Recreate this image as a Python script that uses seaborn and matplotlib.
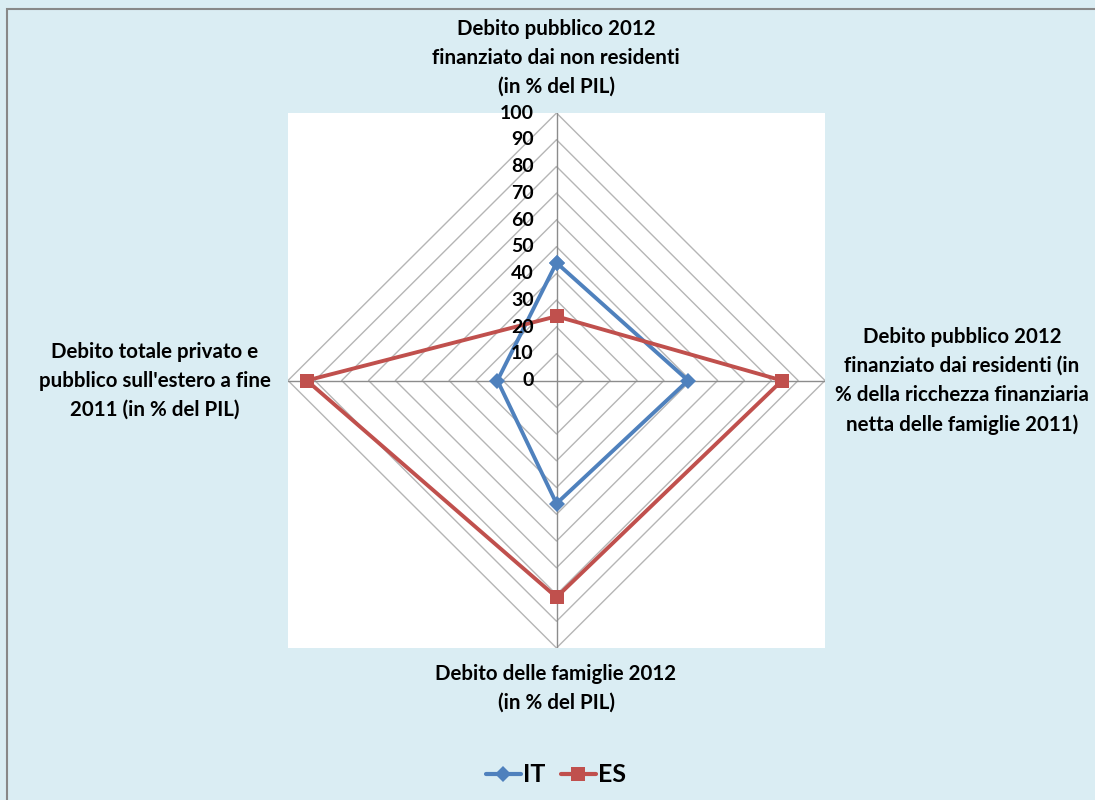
import numpy as np
import pandas as pd
import matplotlib.pyplot as plt
import seaborn as sns
from matplotlib.lines import Line2D
from matplotlib.patches import Rectangle

sns.set_style("white")
plt.rcParams['font.family'] = ['Lato', 'DejaVu Sans']
plt.rcParams['font.weight'] = 'bold'
plt.rcParams['text.color'] = 'black'

# --- Data ---
categories = [
    "Debito pubblico 2012\nfinanziato dai non residenti\n(in % del PIL)",
    "Debito pubblico 2012\nfinanziato dai residenti (in\n% della ricchezza finanziaria\nnetta delle famiglie 2011)",
    "Debito delle famiglie 2012\n(in % del PIL)",
    "Debito totale privato e\npubblico sull'estero a fine\n2011 (in % del PIL)",
]
it_values = [44, 49, 46, 22]
es_values = [24, 84, 81, 93]
ticks = list(range(0, 101, 10))

# top, right, bottom, left (clockwise from top)
angles = np.deg2rad([90, 0, -90, 180])

BG = '#DAEDF3'
IT_COLOR = '#4F81BD'
ES_COLOR = '#C0504D'

fig = plt.figure(figsize=(10.95, 8), dpi=100)
fig.patch.set_facecolor(BG)
fig.patches.append(Rectangle((7 / 1095, -0.1), 1.2, 1.1 - 9 / 800, transform=fig.transFigure,
                             fill=False, edgecolor='#888888', linewidth=1.5, zorder=0))

ax = fig.add_axes([288 / 1095, 152 / 800, 537 / 1095, 535 / 800])
ax.set_facecolor('white')
for s in ax.spines.values():
    s.set_visible(False)

# grid diamonds
for r in ticks[1:]:
    gx = np.append(r * np.cos(angles), r * np.cos(angles[0]))
    gy = np.append(r * np.sin(angles), r * np.sin(angles[0]))
    ax.plot(gx, gy, color='#B5B5B5', lw=1, zorder=1)
# spokes
for a in angles:
    ax.plot([0, 100 * np.cos(a)], [0, 100 * np.sin(a)], color='#8C8C8C', lw=1, zorder=1)

# series
for name, vals, color, marker, ms in [('IT', it_values, IT_COLOR, 'D', 8),
                                     ('ES', es_values, ES_COLOR, 's', 10)]:
    v = np.array(vals + vals[:1], dtype=float)
    a = np.append(angles, angles[0])
    df = pd.DataFrame({'x': v * np.cos(a), 'y': v * np.sin(a)})
    sns.lineplot(data=df, x='x', y='y', sort=False, estimator=None, ax=ax, color=color,
                 lw=2.8, marker=marker, markersize=ms, markeredgewidth=0, zorder=3, legend=False)
ax.set_xlabel('')
ax.set_ylabel('')
ax.set_xticks([])
ax.set_yticks([])
ax.set_xlim(-100, 100)
ax.set_ylim(-100, 100)

# radial tick labels
for t in ticks:
    ax.text(-8.5, t, str(t), ha='right', va='center', fontsize=14, fontweight='bold',
            color='black', zorder=4, clip_on=False)

# category labels (figure pixel coords)
label_pos = [(556, 58), (962, 381), (556, 688), (155, 381)]
for lab, (px, py) in zip(categories, label_pos):
    fig.text(px / 1095, 1 - py / 800, lab, ha='center', va='center', fontsize=14.8,
             fontweight='bold', linespacing=1.55, color='black')

# legend
handles = [Line2D([], [], color=IT_COLOR, lw=3, marker='D', markersize=8, markeredgewidth=0),
           Line2D([], [], color=ES_COLOR, lw=3, marker='s', markersize=10, markeredgewidth=0)]
fig.legend(handles, ['IT', 'ES'], loc='center', bbox_to_anchor=(556 / 1095, 1 - 775 / 800),
           ncol=2, frameon=False, handlelength=1.4, handletextpad=0.1, labelcolor='black',
           columnspacing=0.6, prop={'weight': 'bold', 'size': 18})

fig.savefig('out.png', dpi=100, facecolor=fig.get_facecolor())
